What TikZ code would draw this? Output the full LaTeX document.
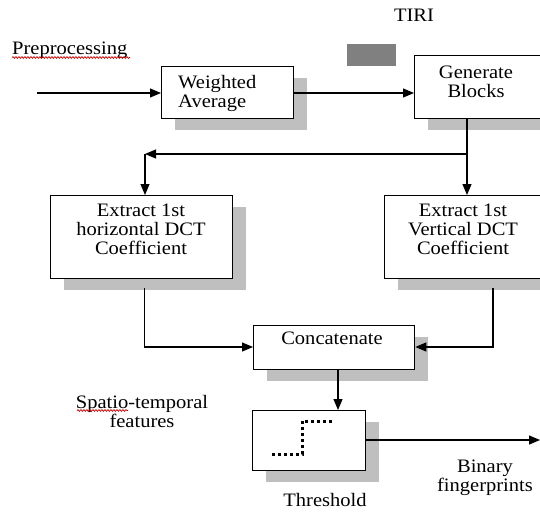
\documentclass[tikz,border=0pt]{standalone}
\usepackage{fontspec}
\setmainfont[FakeStretch=1.08]{Liberation Serif}
\usepackage{tikz}
\usetikzlibrary{arrows.meta,positioning,shadows,calc,decorations.pathmorphing}

\begin{document}
\begin{tikzpicture}[
    x=1pt, y=-1pt,
    blockbox/.style={draw, line width=1.3pt, fill=white,
                     anchor=north west, inner sep=0pt,
                     drop shadow={shadow xshift=13pt, shadow yshift=-11pt,
                                  fill=black!25, opacity=1}},
    txt/.style={font=\rmfamily\fontsize{19}{19}\selectfont, inner sep=0pt, align=center},
    arr/.style={-{Triangle[length=11pt,width=9pt]}, line width=1.2pt},
    squiggle/.style={red!80!black, line width=0.7pt, decorate,
                     decoration={snake, amplitude=0.9pt, segment length=3pt}}
  ]
  \useasboundingbox (0,0) rectangle (540,511);
  % Loose labels
  \node[txt, anchor=base west] (pre) at (12,55) {Preprocessing};
  \draw[squiggle] (12,57.5) -- (130,57.5);
  \node[txt, anchor=base] (tiri) at (414,22) {TIRI};
  \fill[black!50] (347,44) rectangle (396,66);
  % Blocks
  \node[blockbox, minimum width=132pt, minimum height=52pt] (wavg) at (161,66) {};
  \node[txt, align=left, anchor=north west] (wavg-t) at (178,75) {Weighted\\Average};
  \node[blockbox, minimum width=135pt, minimum height=63pt] (gen) at (414,55) {};
  \node[txt, anchor=north] (gen-t) at (476,66) {Generate\\Blocks};
  \node[blockbox, minimum width=182pt, minimum height=83pt] (hor) at (50,195) {};
  \node[txt, anchor=north] (hor-t) at (141,204) {Extract 1st\\horizontal DCT\\Coefficient};
  \node[blockbox, minimum width=160pt, minimum height=83pt] (ver) at (384,195) {};
  \node[txt, anchor=north] (ver-t) at (463,204) {Extract 1st\\Vertical DCT\\Coefficient};
  \node[blockbox, minimum width=161pt, minimum height=44pt] (cat) at (253,325) {};
  \node[txt, anchor=north] (cat-t) at (332,332) {Concatenate};
  \node[blockbox, minimum width=113pt, minimum height=60pt] (thr) at (252,410) {};
  % Step symbol
  \draw[line width=3pt, dash pattern=on 3pt off 3pt]
    (272,454) -- (302,454) -- (302,421) -- (332,421);
  \node[txt] (thr-t) at (325,500) {Threshold};
  \node[txt] (feat) at (142,411) {Spatio-temporal\\features};
  \draw[squiggle] (77,410.5) -- (128,410.5);
  \node[txt] (bin) at (485,478) {Binary\\fingerprints};
  % Free ends and bends
  \coordinate (in) at (37,93);
  \coordinate (out) at (540,440);
  \coordinate (split) at (467,154);
  \coordinate (corner) at (145,154);
  % Connectors
  \draw[arr] (in) -- (in -| wavg.west);
  \draw[arr] (wavg.east |- in) -- (gen.west |- in);
  \draw[arr] (split |- gen.south) -- (split |- ver.north);
  \draw[arr] (split) -- (corner);
  \draw[arr] (corner) -- (corner |- hor.north);
  \draw[arr] ($(hor.south)+(3,9)$) |- (cat.west |- 0,347);
  \draw[arr] ($(ver.south -| 493,0)+(0,9)$) |- (cat.east |- 0,347);
  \draw[arr] (cat.south -| 338,0) -- (thr.north -| 338,0);
  \draw[arr] (thr.east |- out) -- (out);
\end{tikzpicture}
\end{document}
